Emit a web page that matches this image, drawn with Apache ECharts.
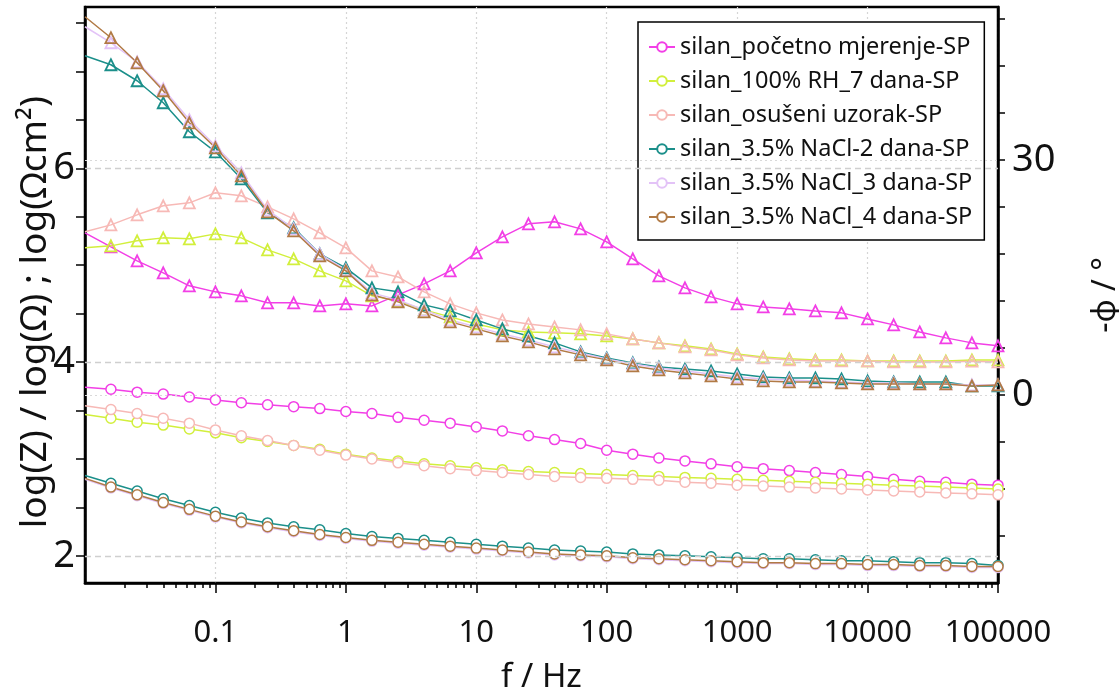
<!DOCTYPE html>
<html><head><meta charset="utf-8">
<script src="https://cdn.jsdelivr.net/npm/echarts@6/dist/echarts.min.js"></script>
<style>html,body{margin:0;padding:0;background:#fff}#c{width:1119px;height:694px}</style>
</head><body><div id="c"></div>
<script>
// frequencies (Hz)
const freq = [0.01,0.0158,0.0251,0.0398,0.0631,0.1,0.158,0.251,0.398,0.631,1,1.585,2.512,3.981,6.31,10,15.85,25.12,39.81,63.1,100,158.5,251.2,398.1,631,1000,1585,2512,3981,6310,10000,15849,25119,39811,63096,100000];

const seriesNames = ['silan_početno mjerenje-SP','silan_100% RH_7 dana-SP','silan_osušeni uzorak-SP','silan_3.5% NaCl-2 dana-SP','silan_3.5% NaCl_3 dana-SP','silan_3.5% NaCl_4 dana-SP'];
const seriesColors = ['#f23fe6','#d2ef3c','#f7b9b6','#1b8f8a','#e3c3f7','#b17a45'];

// log|Z| (circles, left axis)
const zPocetno = [3.74,3.72,3.69,3.67,3.64,3.61,3.58,3.56,3.54,3.52,3.49,3.47,3.43,3.40,3.37,3.33,3.29,3.24,3.20,3.16,3.09,3.05,3.01,2.98,2.95,2.92,2.90,2.88,2.86,2.84,2.82,2.79,2.77,2.76,2.74,2.73];
const zRH = [3.46,3.42,3.38,3.35,3.31,3.27,3.22,3.18,3.14,3.10,3.05,3.01,2.98,2.95,2.93,2.91,2.89,2.87,2.86,2.85,2.84,2.83,2.82,2.81,2.80,2.79,2.78,2.77,2.76,2.75,2.74,2.73,2.72,2.71,2.70,2.69];
const zOsuseni = [3.55,3.51,3.47,3.42,3.37,3.30,3.24,3.19,3.14,3.09,3.04,3.00,2.96,2.93,2.90,2.88,2.86,2.84,2.82,2.81,2.80,2.79,2.78,2.76,2.75,2.73,2.72,2.71,2.70,2.69,2.68,2.67,2.66,2.65,2.64,2.63];
const zNaCl2 = [2.83,2.75,2.67,2.59,2.52,2.45,2.39,2.34,2.30,2.27,2.23,2.20,2.18,2.16,2.14,2.12,2.10,2.08,2.06,2.05,2.04,2.02,2.01,2.00,1.99,1.98,1.97,1.97,1.96,1.95,1.95,1.94,1.93,1.93,1.92,1.90];
const zNaCl3 = [2.79,2.70,2.62,2.54,2.47,2.40,2.34,2.29,2.25,2.21,2.18,2.15,2.13,2.11,2.09,2.07,2.05,2.03,2.01,2.00,1.99,1.97,1.96,1.95,1.94,1.93,1.92,1.92,1.91,1.91,1.90,1.90,1.89,1.89,1.88,1.88];
const zNaCl4 = [2.80,2.71,2.63,2.55,2.48,2.41,2.35,2.30,2.26,2.22,2.19,2.16,2.14,2.12,2.10,2.08,2.06,2.04,2.02,2.01,2.00,1.98,1.97,1.96,1.95,1.94,1.93,1.93,1.92,1.92,1.91,1.91,1.90,1.90,1.89,1.89];

// -phase (triangles, right axis)
const phPocetno = [20.68,18.89,17.11,15.58,13.92,13.15,12.64,11.75,11.75,11.36,11.62,11.36,12.77,14.17,15.83,18.13,20.17,21.83,22.09,21.19,19.53,17.36,15.19,13.66,12.51,11.62,11.23,10.98,10.72,10.47,9.70,8.94,8.04,7.28,6.64,6.26];
const phRH = [18.77,19.02,19.66,20.04,19.92,20.55,20.04,18.51,17.36,15.83,14.55,12.64,12.00,10.85,9.96,9.06,8.30,8.04,7.92,7.79,7.53,7.15,6.64,6.26,5.87,5.23,4.85,4.60,4.47,4.47,4.34,4.34,4.34,4.34,4.47,4.47];
const phOsuseni = [20.81,21.70,22.98,24.13,24.51,25.79,25.41,24.00,22.47,20.68,18.77,15.83,15.06,13.15,11.62,10.47,9.57,9.06,8.68,8.30,7.79,7.15,6.64,6.13,5.74,5.11,4.72,4.47,4.34,4.34,4.34,4.21,4.21,4.21,4.30,4.21];
const phNaCl2 = [43.28,42.13,40.09,37.28,33.58,31.02,27.58,23.23,21.32,18.00,16.21,13.66,13.15,11.49,10.72,9.57,8.43,7.53,6.64,5.49,4.72,4.09,3.57,3.32,3.06,2.68,2.30,2.17,2.17,2.04,1.79,1.66,1.66,1.66,1.15,1.15];
const phNaCl3 = [46.98,44.94,42.51,39.07,35.11,31.79,28.34,23.62,21.19,18.00,15.96,13.02,12.13,10.85,9.57,8.68,7.79,7.02,6.13,5.36,4.60,3.96,3.45,3.06,2.68,2.30,2.04,1.91,1.79,1.66,1.53,1.53,1.40,1.40,1.28,1.28];
const phNaCl4 = [48.26,45.58,42.38,38.81,34.72,31.53,27.96,23.36,20.94,17.75,15.83,12.77,11.87,10.60,9.32,8.43,7.53,6.77,5.87,5.11,4.47,3.70,3.19,2.81,2.43,2.04,1.79,1.66,1.66,1.53,1.40,1.40,1.40,1.40,1.15,1.28];

// axis ticks / labels
const xLabels = ['0.1','1','10','100','1000','10000','100000'];
const leftTicks = [2,2.5,3,3.5,4,4.5,5,5.5,6,6.5,7,7.5];
const leftLabels = [2,4,6];
const rightTicks = [-18,-12,-6,0,6,12,18,24,30,36,42,48];
const rightLabels = [0,30];
const leftTitle = 'log(Z) / log(Ω) ; log(Ωcm²)';

const zSets = [zPocetno,zRH,zOsuseni,zNaCl2,zNaCl3,zNaCl4];
const phSets = [phPocetno,phRH,phOsuseni,phNaCl2,phNaCl3,phNaCl4];

// minor tick positions (decade exponent space) for the 2..9 sub-ticks
const xMinorExp = [];
for (let d = -2; d < 5; d++) for (let m = 2; m <= 9; m++) xMinorExp.push(d + Math.log10(m));

function mk(vals) {
  return vals.map((v, i) => i === 0 ? { value: [freq[i], v], symbol: 'none' } : [freq[i], v]);
}

const FONT = 'Noto Sans';
const series = [];
series.push({
  type: 'line', name: '_grid', data: [], yAxisIndex: 0, silent: true,
  markLine: { silent: true, symbol: 'none', label: { show: false }, animation: false,
    lineStyle: { color: '#cfcfcf', type: [6, 4], width: 1.3 },
    data: leftLabels.map(v => ({ yAxis: v })) }
});
series.push({
  type: 'line', name: '_grid2', data: [], yAxisIndex: 1, silent: true,
  markLine: { silent: true, symbol: 'none', label: { show: false }, animation: false,
    lineStyle: { color: '#d9d9d9', type: [2, 3], width: 1.2 },
    data: [{ yAxis: 0 }, { yAxis: 30 }] }
});
zSets.forEach((arr, i) => series.push({
  type: 'line', name: seriesNames[i], data: mk(arr), yAxisIndex: 0,
  symbol: 'circle', symbolSize: 10, showAllSymbol: true,
  itemStyle: { color: '#fff', borderColor: seriesColors[i], borderWidth: 1.5 },
  lineStyle: { color: seriesColors[i], width: 1.5 },
  emphasis: { disabled: true }
}));
phSets.forEach((arr, i) => series.push({
  type: 'line', name: seriesNames[i], data: mk(arr), yAxisIndex: 1,
  symbol: 'triangle', symbolSize: 11, showAllSymbol: true,
  itemStyle: { color: 'rgba(255,255,255,0)', borderColor: seriesColors[i], borderWidth: 1.8 },
  lineStyle: { color: seriesColors[i], width: 1.5 },
  emphasis: { disabled: true }
}));

const chart = echarts.init(document.getElementById('c'), null, { renderer: 'canvas' });
chart.setOption({
  animation: false,
  backgroundColor: '#fff',
  textStyle: { fontFamily: FONT },
  grid: { left: 85, right: 121, top: 7, bottom: 111, containLabel: false, outerBoundsMode: 'none',
    show: true, borderColor: '#000', borderWidth: 2.5, backgroundColor: 'transparent' },
  graphic: [{
    type: 'text', x: 35, y: 312, rotation: Math.PI / 2, silent: true,
    style: { text: leftTitle, font: '37px "Noto Sans"', fill: '#111', align: 'center', verticalAlign: 'middle' }
  }],
  legend: {
    data: seriesNames, orient: 'vertical', left: 638, top: 22,
    padding: [13, 12, 11, 10], itemGap: 10, itemWidth: 26, itemHeight: 12,
    backgroundColor: '#fff', borderColor: '#000', borderWidth: 1.5, borderRadius: 0,
    textStyle: { fontFamily: FONT, fontSize: 23.5, color: '#111' },
    selectedMode: false
  },
  xAxis: [{
    type: 'log', logBase: 10, min: 0.01, max: 100000,
    name: 'f / Hz', nameLocation: 'middle', nameGap: 78,
    nameTextStyle: { fontSize: 33, color: '#111', fontFamily: FONT },
    axisLine: { show: true, onZero: false, lineStyle: { color: '#000', width: 2.5 } },
    axisTick: { show: true, length: 10, lineStyle: { color: '#000', width: 1.5 } },
    axisLabel: { show: true, fontSize: 31, color: '#111', margin: 35, fontFamily: FONT,
      formatter: v => { const s = xLabels.find(l => Math.abs(parseFloat(l) - v) / v < 1e-6); return s || ''; },
      showMinLabel: false },
    splitLine: { show: true, lineStyle: { color: '#d5d5d5', type: [2, 3], width: 1.2 } },
    minorTick: { show: false }, minorSplitLine: { show: false }
  }, {
    type: 'value', min: -2, max: 5, position: 'bottom', offset: 0,
    axisLine: { show: false, onZero: false },
    axisTick: { show: true, length: 5, customValues: xMinorExp, lineStyle: { color: '#000', width: 1.5 } },
    axisLabel: { show: false },
    splitLine: { show: false }
  }],
  yAxis: [{
    type: 'value', min: 1.72, max: 7.665, position: 'left',
    axisLine: { show: true, onZero: false, lineStyle: { color: '#000', width: 2.5 } },
    axisTick: { show: true, length: 9, customValues: leftTicks, lineStyle: { color: '#000', width: 1.5 } },
    axisLabel: { show: true, fontSize: 38, color: '#111', margin: 10, customValues: leftLabels, fontFamily: FONT },
    splitLine: { show: false }
  }, {
    type: 'value', min: -24, max: 49.5, position: 'right',
    name: '-φ / °', nameLocation: 'middle', nameGap: 92, nameRotate: 90,
    nameTextStyle: { fontSize: 32, color: '#111', fontFamily: FONT },
    axisLine: { show: true, onZero: false, lineStyle: { color: '#000', width: 2.5 } },
    axisTick: { show: true, length: 7, customValues: rightTicks, lineStyle: { color: '#000', width: 1.5 } },
    axisLabel: { show: true, fontSize: 38, color: '#111', margin: 14, customValues: rightLabels, fontFamily: FONT },
    splitLine: { show: false }
  }],
  series: series
});
</script></body></html>
